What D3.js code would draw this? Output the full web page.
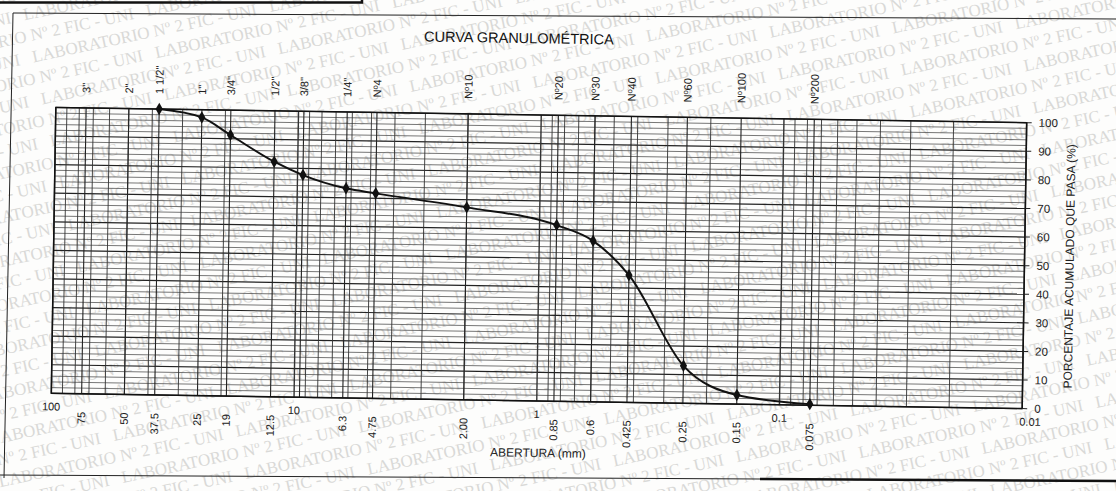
<!DOCTYPE html>
<html>
<head>
<meta charset="utf-8">
<script src="https://cdn.jsdelivr.net/npm/d3@7"></script>
<style>
  html, body { margin: 0; padding: 0; background: #fdfdfc; }
  svg { display: block; font-family: "Liberation Sans", Arial, sans-serif; }
</style>
</head>
<body>
<div id="chart"></div>
<script>
// sieve analysis
const sieveNames   = ["1 1/2\"", "1\"", "3/4\"", "1/2\"", "3/8\"", "1/4\"", "Nº4", "Nº10", "Nº20", "Nº30", "Nº40", "Nº60", "Nº100", "Nº200"];
const sieveOpening = [37.5, 25, 19, 12.5, 9.5, 6.3, 4.75, 2.00, 0.85, 0.6, 0.425, 0.25, 0.15, 0.075];
const percentPass  = [100, 97.3, 91.3, 82.2, 77.7, 73.3, 71.7, 67.3, 61.6, 56.3, 44.5, 13.1, 3.2, 0.4];

// labels printed on the form
const topLabels   = ["3\"", "2\"", ...sieveNames];
const topOpenings = [75, 50, ...sieveOpening];
const mmLabels    = ["75", "50", "37.5", "25", "19", "12.5", "6.3", "4.75", "2.00", "0.85", "0.6", "0.425", "0.25", "0.15", "0.075"];
const mmOpenings  = [75, 50, 37.5, 25, 19, 12.5, 6.3, 4.75, 2.00, 0.85, 0.6, 0.425, 0.25, 0.15, 0.075];
const decadeTicks = [100, 10, 1, 0.1, 0.01];
const pctTicks    = [0, 10, 20, 30, 40, 50, 60, 70, 80, 90, 100];

const W = 1116, H = 491;
const margin = { top: 115, left: 53.5 };
const plotW = 971, plotH = 286;
const TILT = 0.9;   // the scan is slightly rotated

const svg = d3.select("#chart").append("svg")
  .attr("width", W)
  .attr("height", H);

svg.append("rect").attr("width", W).attr("height", H).attr("fill", "#fdfdfc");

// watermark
const wmText = "LABORATORIO Nº 2 FIC - UNI";
const wm = svg.append("g")
  .attr("transform", "translate(402,50) rotate(-12)")
  .attr("fill", "#d9d9d7")
  .style("font-family", "'Liberation Serif', 'DejaVu Serif', serif")
  .style("font-size", "17px");
const sep = "\u00a0\u00a0\u00a0";
const probe = wm.append("text").text(wmText + sep);
const period = probe.node().getComputedTextLength();
probe.remove();
for (let k = -8; k <= 30; k++) {
  wm.append("text")
    .attr("x", -6 * period + (Math.abs(k) % 2) * period / 2)
    .attr("y", k * 21.5)
    .text(d3.range(16).map(() => wmText).join(sep));
}

// page frame bits
svg.append("path")
  .attr("d", "M13,13 L1116,19 M13,13 L4,478 M0,475 L760,479")
  .attr("fill", "none").attr("stroke", "#222").attr("stroke-width", 1);
svg.append("path")
  .attr("d", "M760,479 L1116,481")
  .attr("fill", "none").attr("stroke", "#111").attr("stroke-width", 2.5);
svg.append("path")
  .attr("d", "M0,2.5 H362 V0")
  .attr("fill", "none").attr("stroke", "#111").attr("stroke-width", 2.5);

const g = svg.append("g")
  .attr("transform", `rotate(${TILT},539,258) translate(${margin.left},${margin.top})`);

const x = d3.scaleLog().domain([100, 0.01]).range([0, plotW]);
const y = d3.scaleLinear().domain([0, 100]).range([plotH, 0]);

// grid
const grid = g.append("g").attr("fill", "none");
grid.selectAll(".hline").data(d3.range(0, 101, 2)).join("line")
  .attr("x1", 0).attr("x2", plotW)
  .attr("y1", d => y(d)).attr("y2", d => y(d))
  .attr("stroke", d => d % 10 === 0 ? "#222" : "#4a4a4a")
  .attr("stroke-width", d => d % 10 === 0 ? 1.2 : 0.75);

grid.selectAll(".vline").data(x.ticks()).join("line")
  .attr("x1", d => x(d)).attr("x2", d => x(d))
  .attr("y1", 0).attr("y2", plotH)
  .attr("stroke", "#333")
  .attr("stroke-width", d => decadeTicks.includes(d) ? 1.4 : 0.9);

grid.selectAll(".sline").data(topOpenings).join("line")
  .attr("x1", d => x(d)).attr("x2", d => x(d))
  .attr("y1", 0).attr("y2", plotH)
  .attr("stroke", "#222").attr("stroke-width", 1.1);

g.append("rect")
  .attr("width", plotW).attr("height", plotH)
  .attr("fill", "none").attr("stroke", "#111").attr("stroke-width", 1.5);

// curve
const pts = sieveOpening.map((d, i) => ({ size: d, pass: percentPass[i] }));
const line = d3.line()
  .x(d => x(d.size))
  .y(d => y(d.pass))
  .curve(d3.curveMonotoneX);

g.append("path")
  .datum(pts)
  .attr("fill", "none")
  .attr("stroke", "#111")
  .attr("stroke-width", 2)
  .attr("d", line);

g.selectAll(".pt").data(pts).join("path")
  .attr("transform", d => `translate(${x(d.size)},${y(d.pass)})`)
  .attr("d", d3.symbol(d3.symbolDiamond, 45))
  .attr("fill", "#111");

// top sieve names
g.selectAll(".top-label").data(topLabels).join("text")
  .attr("transform", (d, i) => `translate(${x(topOpenings[i])},-15) rotate(-90)`)
  .attr("dy", "0.35em")
  .attr("font-size", 11)
  .attr("fill", "#222")
  .text(d => d);

// bottom openings
g.selectAll(".mm-label").data(mmLabels).join("text")
  .attr("transform", (d, i) => `translate(${x(mmOpenings[i])},${plotH + 18}) rotate(-90)`)
  .attr("dy", "0.35em")
  .attr("text-anchor", "end")
  .attr("font-size", 11)
  .attr("fill", "#222")
  .text(d => d);

g.selectAll(".dec-label").data(decadeTicks).join("text")
  .attr("x", d => x(d))
  .attr("dx", d => d === 0.01 ? 8 : 0)
  .attr("y", plotH + 17)
  .attr("text-anchor", "middle")
  .attr("font-size", 11)
  .attr("fill", "#222")
  .text(d => d);

// right percent axis
g.selectAll(".ptick").data(pctTicks).join("line")
  .attr("x1", plotW).attr("x2", plotW + 5)
  .attr("y1", d => y(d)).attr("y2", d => y(d))
  .attr("stroke", "#222");

g.selectAll(".pct-label").data(pctTicks).join("text")
  .attr("x", plotW + 12)
  .attr("y", d => y(d))
  .attr("dy", "0.35em")
  .attr("font-size", 11.5)
  .attr("fill", "#222")
  .text(d => d);

g.append("text")
  .attr("transform", `translate(${plotW + 45},${plotH / 2}) rotate(-90)`)
  .attr("dy", "0.35em")
  .attr("text-anchor", "middle")
  .attr("font-size", 12)
  .attr("fill", "#222")
  .text("PORCENTAJE ACUMULADO QUE PASA (%)");

g.append("text")
  .attr("x", 487.5)
  .attr("y", plotH + 56)
  .attr("text-anchor", "middle")
  .attr("font-size", 12)
  .attr("fill", "#222")
  .text("ABERTURA (mm)");

g.append("text")
  .attr("x", 462)
  .attr("y", -71.7)
  .attr("text-anchor", "middle")
  .attr("font-size", 14.5)
  .attr("fill", "#111")
  .text("CURVA GRANULOMÉTRICA");
</script>
</body>
</html>
